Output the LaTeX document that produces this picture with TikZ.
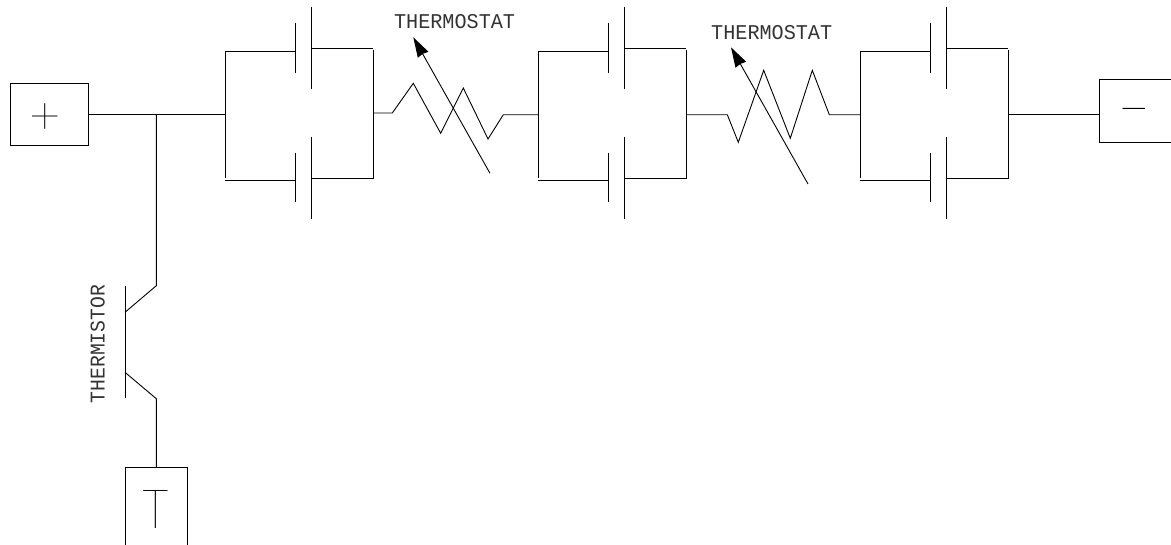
\documentclass[tikz,border=0pt]{standalone}
\usepackage{fontspec}
\setmainfont{Liberation Mono}
\newfontfamily\thinfont{Poppins Thin}
\usetikzlibrary{arrows.meta}
\tikzset{
  wire/.style={line width=0.9pt},
  termbox/.style={draw, line width=0.9pt, inner sep=0pt, outer sep=0pt},
  cadlabel/.style={inner sep=0pt, font=\fontsize{21}{21}\selectfont, text=black!80},
  signlabel/.style={inner sep=0pt, font=\thinfont\fontsize{50}{50}\selectfont}
}
\begin{document}
\begin{tikzpicture}[x=1pt,y=-1pt]
  \useasboundingbox (0,0) rectangle (1171,544);
  % terminals
  \node[termbox, minimum width=78pt, minimum height=62.4pt] (plusbox) at (49.2,114.5) {};
  \node[signlabel] (plussign) at (45.3,120) {+};
  \node[termbox, minimum width=78pt, minimum height=62.6pt] (minusbox) at (1138.3,111) {};
  \node[signlabel, font=\thinfont\fontsize{62}{62}\selectfont] (minussign) at (1134.2,120) {\char"2212};
  \node[termbox, minimum width=62.7pt, minimum height=78pt] (groundbox) at (156.3,506) {};
  \node[signlabel, font=\thinfont\fontsize{54}{54}\selectfont, xscale=1.05] (groundsign) at (155.5,509) {T};
  % battery banks
  \foreach \name/\dx in {a/0,b/313,c/635} {
    \begin{scope}[xshift=\dx pt]
      \coordinate (\name-in) at (225.3,114.7);
      \coordinate (\name-out) at (373.3,114.7);
      \draw[wire] (225.3,178.3) -- (225.3,51.7) -- (295,51.7);
      \draw[wire] (225.3,180.5) -- (295,180.5);
      \draw[wire] (295,22.7) -- (295,72.7);
      \draw[wire] (311.7,6.7) -- (311.7,89.3);
      \draw[wire] (295,152.7) -- (295,202);
      \draw[wire] (311.7,136.7) -- (311.7,219.3);
      \draw[wire] (311.7,48.3) -- (373.3,48.3);
      \draw[wire] (373.3,49.5) -- (373.3,178.3) -- (311.7,178.3);
    \end{scope}
  }
  % main line
  \coordinate (tee) at (156.3,114.7);
  \draw[wire] (plusbox.east |- tee) -- (tee) -- (a-in);
  \draw[wire] (c-out) -- (minusbox.west |- c-out);
  % first thermostat
  \draw[wire] (373.3,113) -- (392.3,113) -- (413.3,83.3) -- (440.7,133.3) -- (463.3,88) -- (488,139) -- (503.3,114.7) -- (b-in);
  \coordinate (stemA) at (490,173.3);
  \coordinate (tipA) at (413.3,37.3);
  \draw[wire,-{Stealth[length=20pt,width=12pt,inset=1pt]}] (stemA) -- (tipA);
  \node[cadlabel, xscale=0.96] (labelA) at (454.6,21.5) {THERMOSTAT};
  % second thermostat
  \draw[wire] (b-out) -- (727.3,114.7) -- (738.3,142.3) -- (763.7,70.3) -- (790.3,138.3) -- (812.3,70.3) -- (829.3,114.7) -- (c-in);
  \coordinate (stemB) at (808,184);
  \coordinate (tipB) at (731,47.3);
  \draw[wire,-{Stealth[length=20pt,width=12pt,inset=1pt]}] (stemB) -- (tipB);
  \node[cadlabel, xscale=0.96] (labelB) at (771.7,32.2) {THERMOSTAT};
  % thermistor
  \draw[wire] (tee) -- (156.3,285.7) -- (125,312.3);
  \draw[wire] (125,286) -- (125,397.7);
  \draw[wire] (125,372.3) -- (156.3,398.7) -- (156.3,467);
  \node[cadlabel, rotate=90, xscale=0.94] (labelC) at (97.7,344) {THERMISTOR};
\end{tikzpicture}
\end{document}
